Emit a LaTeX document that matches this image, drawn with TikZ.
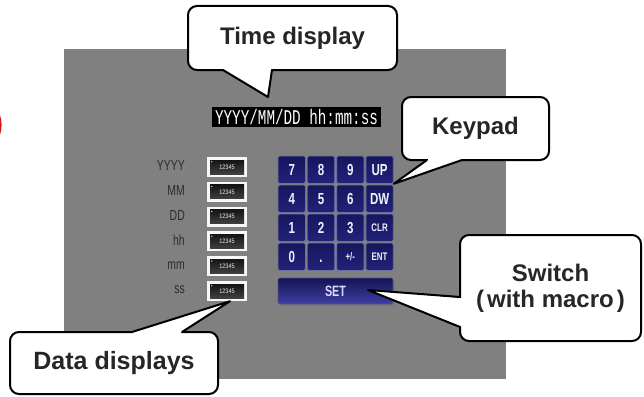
\documentclass[tikz,border=0pt]{standalone}
\usepackage{fontspec}
\setmainfont{Liberation Sans}
\newfontfamily\monof{Liberation Mono}
\usepackage{graphicx}
\definecolor{panel}{HTML}{808080}
\definecolor{navy}{HTML}{16165E}
\definecolor{navyb}{HTML}{22227A}
\definecolor{keyedge}{HTML}{6E6E9E}
\definecolor{lblc}{HTML}{2C2C2C}
\definecolor{calltext}{HTML}{262626}
\definecolor{redarc}{HTML}{D01818}
\tikzset{
  callout/.style={draw=black, line width=2pt, fill=white, rounded corners=9pt,
    inner sep=0pt, text=calltext, font=\fontsize{24}{25}\selectfont\bfseries, align=center},
  pointerfill/.style={fill=white},
  pointerline/.style={draw=black, line width=2pt, line join=round},
  keybox/.style={draw=keyedge, line width=0.8pt, rounded corners=1.5pt,
    top color=navy, bottom color=navyb, minimum width=27.4pt, minimum height=27.4pt,
    inner sep=0pt, text=white!94!blue},
  bigkey/.style={font=\fontsize{16}{16}\selectfont\bfseries},
  smallkey/.style={font=\fontsize{11}{11}\selectfont\bfseries},
  rowlbl/.style={anchor=east, inner sep=0pt, text=lblc, font=\fontsize{14.5}{14.5}\selectfont},
  dataout/.style={fill=white!94!gray, minimum width=40pt, minimum height=20pt, inner sep=0pt},
  datain/.style={top color=black!92, bottom color=black!75, minimum width=34pt, minimum height=14pt,
    inner sep=0pt, text=white!85!gray, font=\fontsize{6.5}{6.5}\selectfont},
}
\begin{document}
\begin{tikzpicture}[x=1pt,y=-1pt]
\useasboundingbox (0,0) rectangle (644,396);
% red sliver at left edge
\draw[redarc, line width=2.5pt] (-30,125) circle (30.3);
% panel
\fill[panel] (64,49) rectangle (506,379);
% time text
\node[fill=black, minimum width=169pt, minimum height=20pt, inner sep=0pt] (tt) at (296.5,117)
  {\textcolor{white}{\scalebox{0.68}[1]{\fontsize{21}{21}\monof YYYY/MM/DD hh:mm:ss}}};
% row labels and data displays
\foreach \lab [count=\i] in {YYYY,MM,DD,hh,mm,ss}{
  \pgfmathsetmacro{\yy}{167+24.8*(\i-1)}
  \node[rowlbl] (l\i) at (185,\yy-1) {\scalebox{0.72}[1]{\lab}};
  \node[dataout] (d\i) at (227,\yy) {};
  \node[datain] (di\i) at (d\i.center) {\scalebox{0.85}[1]{12345}};
  \fill[white!90!gray] ([shift={(2pt,-2pt)}]di\i.north west) circle (0.7pt);
}
% keypad
\foreach \lab/\sz [count=\n from 0] in {7/bigkey,8/bigkey,9/bigkey,UP/bigkey,4/bigkey,5/bigkey,6/bigkey,DW/bigkey,1/bigkey,2/bigkey,3/bigkey,CLR/smallkey,0/bigkey,./bigkey,{+/-}/smallkey,ENT/smallkey}{
  \pgfmathtruncatemacro{\c}{mod(\n,4)}
  \pgfmathtruncatemacro{\r}{div(\n,4)}
  \pgfmathsetmacro{\kx}{291.7+29.3*\c}
  \pgfmathsetmacro{\ky}{169.7+29*\r}
  \node[keybox, \sz] (k\n) at (\kx,\ky) {\scalebox{0.72}[1]{\vphantom{0}\lab}};
}
% SET button
\fill[black!55, opacity=0.5, rounded corners=2pt] (280,280) rectangle (395,306);
\node[draw=keyedge!70!navy, line width=0.6pt, rounded corners=2pt, top color=navy!90!black, bottom color=navyb!70!blue!80!white!90!black,
  minimum width=115pt, minimum height=26pt, inner sep=0pt, text=white!85!blue,
  font=\fontsize{15}{15}\selectfont\bfseries] (set) at (335.5,291) {\scalebox{0.72}[1]{SET}};
% --- callouts ---
% Time display
\node[callout, minimum width=209pt, minimum height=64pt] (ctd) at (292.5,38) {Time display};
\coordinate (tdA) at (223,70); \coordinate (tdB) at (272,70); \coordinate (tdT) at (268,97);
\fill[pointerfill] (224,67) -- (224,70) -- (tdT) -- (271,70) -- (271,67) -- cycle;
\draw[pointerline] (tdA) -- (tdT) -- (tdB);
% Keypad
\node[callout, minimum width=147pt, minimum height=63pt] (ckp) at (475.5,128.5) {Keypad};
\coordinate (kpA) at (427,160); \coordinate (kpB) at (462,160); \coordinate (kpT) at (k3.south east);
\fill[pointerfill] (428,157) -- (428,160) -- (kpT) -- (461,160) -- (461,157) -- cycle;
\draw[pointerline] (kpA) -- (kpT) -- (kpB);
% Switch
\node[callout, minimum width=181pt, minimum height=106pt] (csw) at (550.5,288)
  {Switch\\[1pt](\hspace{3pt}with macro\hspace{3pt})};
\coordinate (swA) at (460,297); \coordinate (swB) at (460,327); \coordinate (swT) at (368,290);
\fill[pointerfill] (463,298) -- (460,298) -- (swT) -- (460,326) -- (463,326) -- cycle;
\draw[pointerline] (swA) -- (swT) -- (swB);
% Data displays
\node[callout, minimum width=208pt, minimum height=62pt, font=\fontsize{25}{26}\selectfont\bfseries] (cdd) at (114,363) {\raisebox{-3pt}{Data displays}};
\coordinate (ddA) at (132,332); \coordinate (ddB) at (182,332); \coordinate (ddT) at ([xshift=3pt]d6.south);
\fill[pointerfill] (133,335) -- (133,332) -- (ddT) -- (181,332) -- (181,335) -- cycle;
\draw[pointerline] (ddA) -- (ddT) -- (ddB);
\end{tikzpicture}
\end{document}
